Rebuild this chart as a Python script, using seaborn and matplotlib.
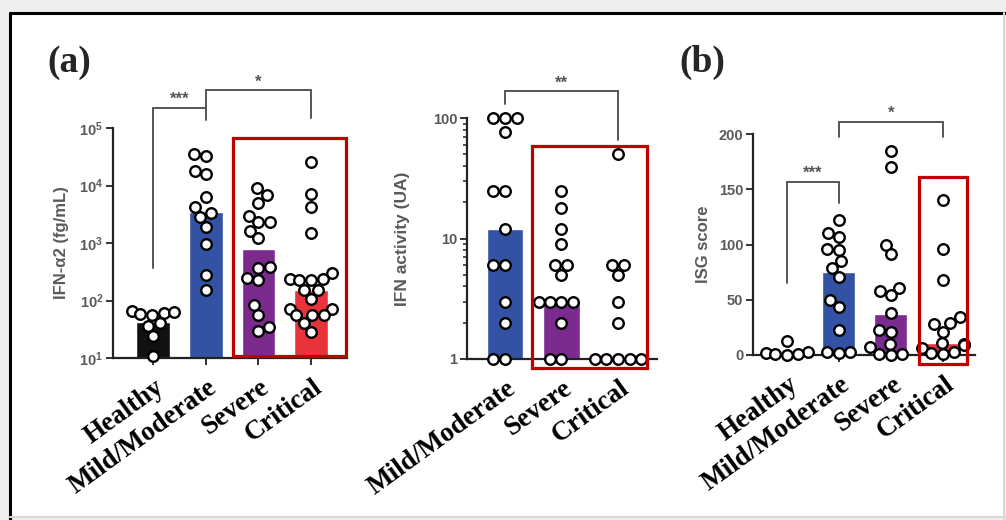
import numpy as np
import pandas as pd
import matplotlib
matplotlib.use("Agg")
import matplotlib.pyplot as plt
import matplotlib.transforms as mtrans
from matplotlib.patches import Rectangle
from matplotlib.lines import Line2D
from matplotlib.ticker import LogLocator, NullLocator, FixedLocator, FuncFormatter, NullFormatter
import seaborn as sns

# ---------------- data ----------------
groups4 = ["Healthy", "Mild/Moderate", "Severe", "Critical"]
groups3 = ["Mild/Moderate", "Severe", "Critical"]

# Panel (a) left: IFN-alpha2 (fg/mL), log scale
ifna2_healthy = [65, 60, 58, 62, 55, 40, 36, 24, 11]
ifna2_mild = [35000, 33000, 18000, 16000, 6300, 4200, 3300, 2800, 1900, 950, 280, 155]
ifna2_severe = [8900, 6900, 5000, 3000, 2300, 2300, 1600, 1200, 390, 365, 250, 225, 83, 55, 35, 30]
ifna2_critical = [26000, 7100, 4300, 1500, 300, 240, 230, 230, 240, 150, 150, 105, 70, 70, 55, 55, 55, 40, 28]
ifna2_bars = [42, 3500, 780, 155]

# Panel (a) right: IFN activity (UA), log scale
act_mild = [100, 100, 100, 76, 25, 25, 12, 6, 6, 3, 2, 1, 1]
act_severe = [25, 18, 12, 9, 6, 6, 5, 3, 3, 3, 3, 2, 1, 1]
act_critical = [50, 6, 6, 5, 3, 2, 1, 1, 1, 1, 1]
act_bars = [12, 3, 1]

# Panel (b): ISG score, linear
isg_healthy = [13, 3, 2, 1, 0.5, 0]
isg_mild = [122, 110, 107, 96, 95, 85, 79, 71, 50, 43, 23, 3, 3, 2]
isg_severe = [185, 170, 100, 91, 61, 58, 54, 38, 23, 21, 10, 7, 1, 1, 0]
isg_critical = [140, 96, 68, 34, 29, 28, 21, 11, 10, 9, 6, 3, 2, 1]
isg_bars = [2, 75, 37, 11]

ylabel_a1 = "IFN-\u03b12 (fg/mL)"
ylabel_a2 = "IFN activity (UA)"
ylabel_b = "ISG score"

colors = {"Healthy": "#111111", "Mild/Moderate": "#3452A4",
          "Severe": "#7B2A8E", "Critical": "#E8323C"}

# ---------------- figure ----------------
W, H = 1006, 520
sns.set_theme(style="ticks")
plt.rcParams["font.family"] = ["Liberation Sans", "DejaVu Sans"]
fig = plt.figure(figsize=(W / 100, H / 100), dpi=100, facecolor="#eeeeee")

# white panel with frame
fig.add_artist(Rectangle((10 / W, 1 - 516 / H), 993 / W, 503 / H, transform=fig.transFigure,
                         facecolor="white", edgecolor="none", zorder=-10))
fig.add_artist(Line2D([10 / W, 1.0], [1 - 13 / H, 1 - 13 / H], transform=fig.transFigure,
                      color="black", lw=2.2))
fig.add_artist(Line2D([10 / W, 10 / W], [0.0, 1 - 13 / H], transform=fig.transFigure,
                      color="black", lw=2.2))
fig.add_artist(Line2D([1004 / W, 1004 / W], [0.0, 1 - 13 / H], transform=fig.transFigure,
                      color="#d8d8d8", lw=1.5))
fig.add_artist(Line2D([10 / W, 1.0], [1 - 517 / H, 1 - 517 / H], transform=fig.transFigure,
                      color="#d8d8d8", lw=1.5))

GRAY = "#5a5a5a"
SWARM_SIZE = 6.3     # marker size used to lay out the swarm
SHOW_SIZE = 7.6      # marker size shown (points overlap a little, like the original)


def make_df(cats, arrays):
    rows = []
    for c, arr in zip(cats, arrays):
        for v in arr:
            rows.append((c, v))
    return pd.DataFrame(rows, columns=["group", "value"])


def draw_panel(rect, cats, arrays, bars, log, ylim, ylabel, label_x, label_size):
    ax = fig.add_axes(rect)
    ax.set_facecolor("none")
    if log:
        ax.set_yscale("log")
    df = make_df(cats, arrays)
    sns.barplot(x=cats, y=bars, order=cats, hue=cats, hue_order=cats,
                palette=[colors[c] for c in cats], legend=False, width=0.64,
                saturation=1, ax=ax, errorbar=None)
    sns.swarmplot(data=df, x="group", y="value", order=cats, color="white",
                  edgecolor="black", linewidth=1.7, size=SWARM_SIZE, ax=ax, warn_thresh=1)
    for c in ax.collections:
        c.set_clip_on(False)
        c.set_zorder(5)
    ax.set_ylim(*ylim)
    sns.despine(ax=ax)
    for s in ["left", "bottom"]:
        ax.spines[s].set_linewidth(1.6)
        ax.spines[s].set_color("#222222")
    ax.tick_params(axis="both", which="major", direction="out", length=5, width=1.4,
                   color="#333333")
    ax.tick_params(axis="y", labelsize=10.5, labelcolor=GRAY, pad=2)
    ax.tick_params(axis="x", pad=7)
    ax.set_xlabel("")
    ax.set_ylabel(ylabel, fontsize=label_size, color=GRAY, fontweight="bold")
    ax.yaxis.set_label_coords(label_x, 0.5)
    ax.set_xticks(range(len(cats)))
    ax.set_xticklabels(cats, rotation=36, ha="right", va="top", rotation_mode="anchor",
                       fontfamily=["Liberation Serif", "DejaVu Serif"], fontweight="bold",
                       fontsize=19.5, color="black")
    off = mtrans.ScaledTranslation(1 / 100, 0, fig.dpi_scale_trans)
    for t in ax.get_xticklabels():
        t.set_transform(t.get_transform() + off)
    return ax


def bold_yticks(ax):
    for t in ax.get_yticklabels():
        t.set_fontweight("bold")


def bracket(ax, x1, x2, y, y1b, y2b, text):
    ax.plot([x1, x1, x2, x2], [y1b, y, y, y2b], color="#555555", lw=1.4,
            clip_on=False, solid_joinstyle="miter", zorder=6)
    ax.annotate(text, xy=((x1 + x2) / 2, y), xytext=(0, 0.5), textcoords="offset points",
                ha="center", va="bottom", fontsize=12, fontweight="bold", color="#555555",
                annotation_clip=False)


def red_box(x0, y0, x1, y1):
    fig.add_artist(Rectangle((x0 / W, 1 - y1 / H), (x1 - x0) / W, (y1 - y0) / H,
                             transform=fig.transFigure, facecolor="none",
                             edgecolor="#C00000", lw=2.3, zorder=20))


# Panel (a) left
ax1 = draw_panel([113 / W, 1 - 358 / H, 234 / W, 230 / H], groups4,
                 [ifna2_healthy, ifna2_mild, ifna2_severe, ifna2_critical],
                 ifna2_bars, True, (10, 1e5), ylabel_a1, -0.19, 12)
ax1.yaxis.set_major_locator(LogLocator(base=10, numticks=10))
ax1.yaxis.set_minor_locator(NullLocator())
ax1.set_xlim(-0.76, 3.68)
bracket(ax1, 0, 1, 10 ** 5.35, 10 ** 2.57, 10 ** 5.14, "***")
bracket(ax1, 1, 3, 10 ** 5.66, 10 ** 5.28, 10 ** 5.17, "*")

# Panel (a) right
ax2 = draw_panel([467 / W, 1 - 359 / H, 190 / W, 241 / H], groups3,
                 [act_mild, act_severe, act_critical],
                 act_bars, True, (1, 100), ylabel_a2, -0.30, 12.5)
ax2.yaxis.set_major_locator(FixedLocator([1, 10, 100]))
ax2.yaxis.set_major_formatter(FuncFormatter(lambda v, p: f"{v:g}"))
ax2.yaxis.set_minor_locator(LogLocator(base=10, subs=np.arange(2, 10), numticks=10))
ax2.yaxis.set_minor_formatter(NullFormatter())
ax2.tick_params(axis="y", which="minor", length=3, width=1.2, color="#333333")
ax2.set_xlim(-0.67, 2.69)
bracket(ax2, 0, 2, 10 ** 2.22, 10 ** 2.12, 10 ** 1.82, "**")

# Panel (b)
ax3 = draw_panel([753 / W, 1 - 355 / H, 222 / W, 221 / H], groups4,
                 [isg_healthy, isg_mild, isg_severe, isg_critical],
                 isg_bars, False, (0, 200), ylabel_b, -0.19, 12)
ax3.set_yticks([0, 50, 100, 150, 200])
ax3.set_xlim(-0.65, 3.62)
bracket(ax3, 0, 1, 156.6, 65, 137.5, "***")
bracket(ax3, 1, 3, 211, 197, 197, "*")

for a in (ax1, ax2, ax3):
    bold_yticks(a)

# red highlight boxes
red_box(233, 138, 346, 356)
red_box(532, 146, 647, 368)
red_box(919, 177, 967, 364)

# panel letters
fig.text(47 / W, 1 - 62 / H, "(a)", fontsize=27, fontweight="bold",
         fontfamily=["Liberation Serif", "DejaVu Serif"], va="center", ha="left")
fig.text(679 / W, 1 - 62 / H, "(b)", fontsize=27, fontweight="bold",
         fontfamily=["Liberation Serif", "DejaVu Serif"], va="center", ha="left")

# let seaborn lay out the swarms once, then freeze positions and show larger markers
fig.canvas.draw()
for a in (ax1, ax2, ax3):
    for c in a.collections:
        if "draw" in c.__dict__:
            del c.__dict__["draw"]
            c.set_sizes([SHOW_SIZE ** 2])
for a in (ax1, ax2, ax3):
    bold_yticks(a)

fig.savefig("out.png", dpi=100, facecolor=fig.get_facecolor())
